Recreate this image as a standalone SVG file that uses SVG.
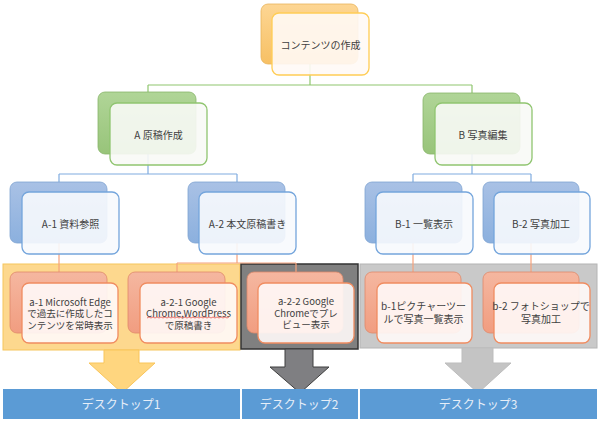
<svg xmlns="http://www.w3.org/2000/svg" width="600" height="423" viewBox="0 0 600 423">
<defs>
<linearGradient id="gO" x1="0" y1="0" x2="0" y2="1"><stop offset="0" stop-color="#fdd694"/><stop offset="1" stop-color="#f7c064"/></linearGradient>
<linearGradient id="gG" x1="0" y1="0" x2="0" y2="1"><stop offset="0" stop-color="#b0d597"/><stop offset="1" stop-color="#98c47a"/></linearGradient>
<linearGradient id="gB" x1="0" y1="0" x2="0" y2="1"><stop offset="0" stop-color="#a9c1e5"/><stop offset="1" stop-color="#8bb0de"/></linearGradient>
<linearGradient id="gS" x1="0" y1="0" x2="0" y2="1"><stop offset="0" stop-color="#f5b7a0"/><stop offset="1" stop-color="#f19d80"/></linearGradient>
<style>
text{font-family:"Noto Sans CJK JP","Noto Sans",sans-serif;font-size:10px;fill:#404040;text-anchor:middle;dominant-baseline:central}
.sm{font-size:9.5px}
.bO{fill:url(#gO);stroke:#e9b45a;stroke-width:0.8}
.fO{fill:#fffaf6;fill-opacity:0.9;stroke:#ffcd55;stroke-width:1.3}
.bG{fill:url(#gG);stroke:#88b56a;stroke-width:0.8}
.fG{fill:#f8faf6;fill-opacity:0.9;stroke:#90c570;stroke-width:1.3}
.bB{fill:url(#gB);stroke:#7fa3d2;stroke-width:0.8}
.fB{fill:#f7f9fd;fill-opacity:0.9;stroke:#74a5dc;stroke-width:1.3}
.bS{fill:url(#gS);stroke:#e0896a;stroke-width:0.8}
.fS{fill:#fffaf8;fill-opacity:0.9;stroke:#f08c60;stroke-width:1.3}
.cG{stroke:#8fc66f;stroke-width:1.2;fill:none}
.cB{stroke:#80ace0;stroke-width:1.2;fill:none}
.cS{stroke:#f6a27c;stroke-width:1.2;fill:none}
.bar{fill:#5b9bd5}
.bar-t{fill:#e6eef8;font-size:12px}
</style>
</defs>

<g id="backdrops">
<rect x="3" y="264" width="237" height="86" fill="#fdd88e" stroke="#f6c55c" stroke-width="1"/>
<rect x="241" y="264" width="117" height="85" fill="#808080" stroke="#333333" stroke-width="1.5"/>
<rect x="360" y="264" width="237" height="84" fill="#c9c9c9" stroke="#b4b4b4" stroke-width="1"/>
</g>

<g id="arrows">
<polygon points="104,350 139,350 139,363 155,363 122,393 89,363 104,363" fill="#ffd67f" stroke="#f9c55a" stroke-width="1"/>
<polygon points="285,349 313,349 313,367 329,367 300,393 270,367 285,367" fill="#7f7f82" stroke="#3f3f3f" stroke-width="1"/>
<polygon points="462,348 493,348 493,363 511,363 478,393 445,363 462,363" fill="#c4c4c4" stroke="#bdbdbd" stroke-width="1"/>
</g>

<g id="connectors">
<path class="cG" d="M310,64 V85 M148,85 H472 M148,85 V92 M472,85 V93"/>
<path class="cB" d="M148,154 V174 M59,174 H237 M59,174 V182 M237,174 V182 M472,154 V174 M413,174 H531 M413,174 V182 M531,174 V182"/>
<path class="cS" d="M59,243 V272 M237,243 V263 M177,263 H296 M177,263 V272 M296,263 V272 M413,243 V272 M531,243 V272"/>
</g>

<g id="n-top">
<rect class="bO" x="261" y="4" width="97" height="60" rx="7"/>
<rect class="fO" x="272" y="13" width="97" height="62" rx="7"/>
<text x="320.5" y="44">コンテンツの作成</text>
</g>

<g id="n-A">
<rect class="bG" x="98" y="92" width="98" height="62" rx="7"/>
<rect class="fG" x="110" y="103" width="97" height="62" rx="7"/>
<text x="158.5" y="134">A 原稿作成</text>
</g>
<g id="n-B">
<rect class="bG" x="423" y="93" width="97" height="61" rx="7"/>
<rect class="fG" x="435" y="103" width="97" height="62" rx="7"/>
<text x="483" y="134">B 写真編集</text>
</g>

<g id="n-A1">
<rect class="bB" x="10" y="182" width="97" height="61" rx="7"/>
<rect class="fB" x="22" y="192" width="97" height="62" rx="7"/>
<text x="70.5" y="223">A-1 資料参照</text>
</g>
<g id="n-A2">
<rect class="bB" x="188" y="182" width="97" height="61" rx="7"/>
<rect class="fB" x="199" y="192" width="97" height="62" rx="7"/>
<text x="247.5" y="223">A-2 本文原稿書き</text>
</g>
<g id="n-B1">
<rect class="bB" x="365" y="182" width="97" height="61" rx="7"/>
<rect class="fB" x="376" y="192" width="97" height="62" rx="7"/>
<text x="424" y="223">B-1 一覧表示</text>
</g>
<g id="n-B2">
<rect class="bB" x="483" y="182" width="96" height="61" rx="7"/>
<rect class="fB" x="494" y="192" width="96" height="62" rx="7"/>
<text x="541" y="223">B-2 写真加工</text>
</g>

<g id="n-a1">
<rect class="bS" x="10" y="272" width="97" height="61" rx="7"/>
<rect class="fS" x="22" y="283" width="96" height="60" rx="7"/>
<text class="sm"><tspan x="70" y="301.5">a-1 Microsoft Edge</tspan><tspan x="70" y="313">で過去に作成したコ</tspan><tspan x="70" y="324.5">ンテンツを常時表示</tspan></text>
</g>
<g id="n-a21">
<rect class="bS" x="128" y="272" width="97" height="61" rx="7"/>
<rect class="fS" x="140" y="283" width="97" height="60" rx="7"/>
<text class="sm"><tspan x="188.5" y="301.5">a-2-1 Google</tspan><tspan x="188.5" y="313">Chrome,WordPress</tspan><tspan x="188.5" y="324.5">で原稿書き</tspan></text>
<polyline points="147,318 149,317 151,318 153,317 155,318 157,317 159,318 161,317 163,318 165,317 167,318 169,317 171,318 173,317 175,318 177,317 179,318 181,317 183,318 185,317 187,318 189,317 191,318 193,317 195,318 197,317 199,318 201,317 203,318 205,317 207,318 209,317 211,318 213,317 215,318 217,317 219,318 221,317 223,318 225,317 227,318 229,317" fill="none" stroke="#e0403a" stroke-width="0.7"/>
</g>
<g id="n-a22">
<rect class="bS" x="247" y="272" width="96" height="61" rx="7"/>
<rect class="fS" x="258" y="283" width="96" height="60" rx="7"/>
<text class="sm"><tspan x="306" y="301">a-2-2 Google</tspan><tspan x="306" y="312.5">Chromeでプレ</tspan><tspan x="306" y="324">ビュー表示</tspan></text>
</g>
<g id="n-b1">
<rect class="bS" x="365" y="272" width="96" height="61" rx="7"/>
<rect class="fS" x="377" y="283" width="95" height="60" rx="7"/>
<text><tspan x="423.5" y="305">b-1ピクチャーツー</tspan><tspan x="423.5" y="317.5">ルで写真一覧表示</tspan></text>
</g>
<g id="n-b2">
<rect class="bS" x="483" y="272" width="96" height="61" rx="7"/>
<rect class="fS" x="494" y="283" width="96" height="60" rx="7"/>
<text><tspan x="541" y="305">b-2 フォトショップで</tspan><tspan x="541" y="317.5">写真加工</tspan></text>
</g>

<g id="bar1">
<rect class="bar" x="3" y="389" width="237" height="30"/>
<text class="bar-t" x="121" y="403">デスクトップ1</text>
</g>
<g id="bar2">
<rect class="bar" x="242" y="389" width="116" height="30"/>
<text class="bar-t" x="299" y="403">デスクトップ2</text>
</g>
<g id="bar3">
<rect class="bar" x="360" y="389" width="237" height="30"/>
<text class="bar-t" x="478" y="403">デスクトップ3</text>
</g>
</svg>
